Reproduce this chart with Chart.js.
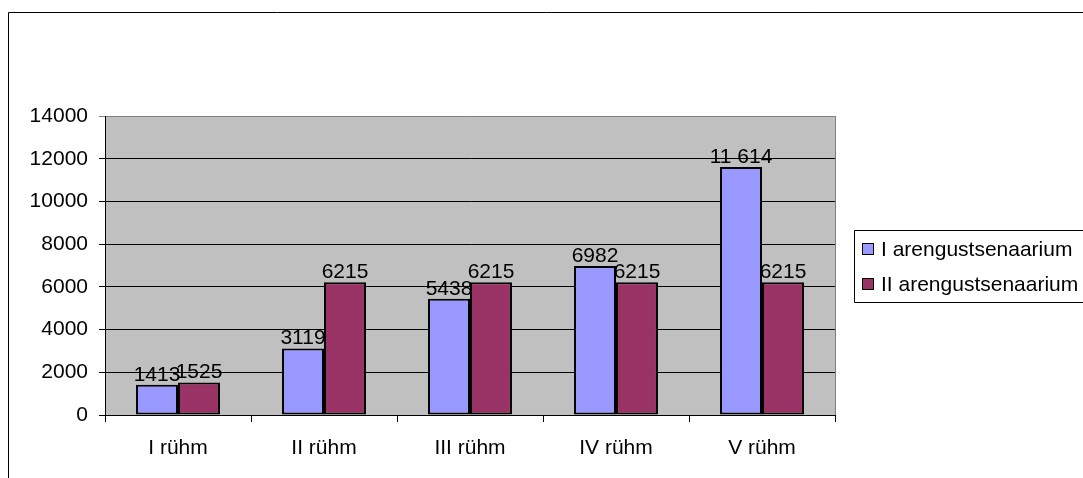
<!DOCTYPE html>
<html>
<head>
<meta charset="utf-8">
<script src="https://cdn.jsdelivr.net/npm/chart.js@4/dist/chart.umd.min.js"></script>
<style>
  html, body { margin: 0; padding: 0; background: #ffffff; }
  #wrap { width: 1083px; height: 478px; position: relative; }
</style>
</head>
<body>
<div id="wrap"><canvas id="c" width="1083" height="478"></canvas></div>
<script>
// Groups and scenario values
const categories = ['I rühm', 'II rühm', 'III rühm', 'IV rühm', 'V rühm'];
const seriesNames = ['I arengustsenaarium', 'II arengustsenaarium'];
const scenarioI = [1413, 3119, 5438, 6982, 11614];
const scenarioII = [1525, 6215, 6215, 6215, 6215];
const yMin = 0;
const yMax = 14000;
const yStep = 2000;

const seriesColors = ['#9999ff', '#993366'];
const FONT = '"Liberation Sans", Arial, sans-serif';
const FONT_SIZE = 21;

// value label text: large numbers get a space as thousands separator
function valueText(v) {
  return v >= 10000 ? String(v).replace(/\B(?=(\d{3})+(?!\d))/g, ' ') : String(v);
}

const decor = {
  id: 'decor',
  beforeDraw(chart) {
    const { ctx, chartArea: a } = chart;
    ctx.save();
    ctx.fillStyle = '#ffffff';
    ctx.fillRect(0, 0, chart.width, chart.height);
    ctx.fillStyle = '#c0c0c0';
    ctx.fillRect(a.left, a.top, a.right - a.left, a.bottom - a.top);
    ctx.restore();
  },
  afterDatasetsDraw(chart) {
    const { ctx } = chart;
    ctx.save();
    ctx.font = FONT_SIZE + 'px ' + FONT;
    ctx.fillStyle = '#000000';
    ctx.textAlign = 'center';
    ctx.textBaseline = 'alphabetic';
    chart.data.datasets.forEach((ds, di) => {
      const meta = chart.getDatasetMeta(di);
      meta.data.forEach((bar, i) => {
        ctx.fillText(valueText(ds.data[i]), bar.x, bar.y - 4);
      });
    });
    ctx.restore();
  },
  afterDraw(chart) {
    const { ctx, chartArea: a } = chart;
    ctx.save();
    // plot frame on the right side
    ctx.strokeStyle = '#808080';
    ctx.lineWidth = 1;
    ctx.beginPath();
    ctx.moveTo(Math.round(a.right) + 0.5, a.top);
    ctx.lineTo(Math.round(a.right) + 0.5, a.bottom);
    ctx.stroke();

    // outer chart frame
    ctx.strokeStyle = '#000000';
    ctx.beginPath();
    ctx.rect(8.5, 12.5, 1100, 500);
    ctx.stroke();

    // legend
    ctx.beginPath();
    ctx.rect(854.5, 230.5, 260, 72);
    ctx.stroke();
    ctx.font = FONT_SIZE + 'px ' + FONT;
    ctx.textAlign = 'left';
    ctx.textBaseline = 'alphabetic';
    const rows = [256, 291];
    chart.data.datasets.forEach((ds, di) => {
      const by = rows[di];
      ctx.fillStyle = ds.backgroundColor;
      ctx.fillRect(862.5, by - 12.5, 11, 11);
      ctx.strokeStyle = '#000000';
      ctx.strokeRect(862.5, by - 12.5, 11, 11);
      ctx.fillStyle = '#000000';
      ctx.fillText(ds.label, 881, by);
    });
    ctx.restore();
  }
};

new Chart(document.getElementById('c'), {
  type: 'bar',
  data: {
    labels: categories,
    datasets: [
      { label: seriesNames[0], data: scenarioI, backgroundColor: seriesColors[0],
        borderColor: '#000000', borderWidth: 2, borderSkipped: false },
      { label: seriesNames[1], data: scenarioII, backgroundColor: seriesColors[1],
        borderColor: '#000000', borderWidth: 2, borderSkipped: false }
    ]
  },
  options: {
    responsive: false,
    animation: false,
    devicePixelRatio: 1,
    layout: { padding: { left: 0, top: 116, right: 248, bottom: 0 } },
    plugins: {
      legend: { display: false },
      tooltip: { enabled: false },
      title: { display: false }
    },
    datasets: {
      bar: { categoryPercentage: 0.575, barPercentage: 1.0 }
    },
    scales: {
      x: {
        afterFit(scale) { scale.height = 63; },
        grid: {
          offset: true,
          drawOnChartArea: false,
          drawTicks: true,
          tickLength: 7,
          color: '#000000'
        },
        border: { display: true, color: '#000000', width: 1 },
        ticks: {
          color: '#000000',
          padding: 14,
          maxRotation: 0,
          font: { family: FONT, size: FONT_SIZE }
        }
      },
      y: {
        min: yMin,
        max: yMax,
        afterFit(scale) { scale.width = 105; },
        grid: {
          drawOnChartArea: true,
          drawTicks: true,
          tickLength: 6,
          color: (c) => (c.tick && c.tick.value === yMax ? '#808080' : '#000000')
        },
        border: { display: true, color: '#000000', width: 1 },
        ticks: {
          stepSize: yStep,
          color: '#000000',
          padding: 11,
          font: { family: FONT, size: FONT_SIZE },
          callback: (v) => String(v)
        }
      }
    }
  },
  plugins: [decor]
});
</script>
</body>
</html>
